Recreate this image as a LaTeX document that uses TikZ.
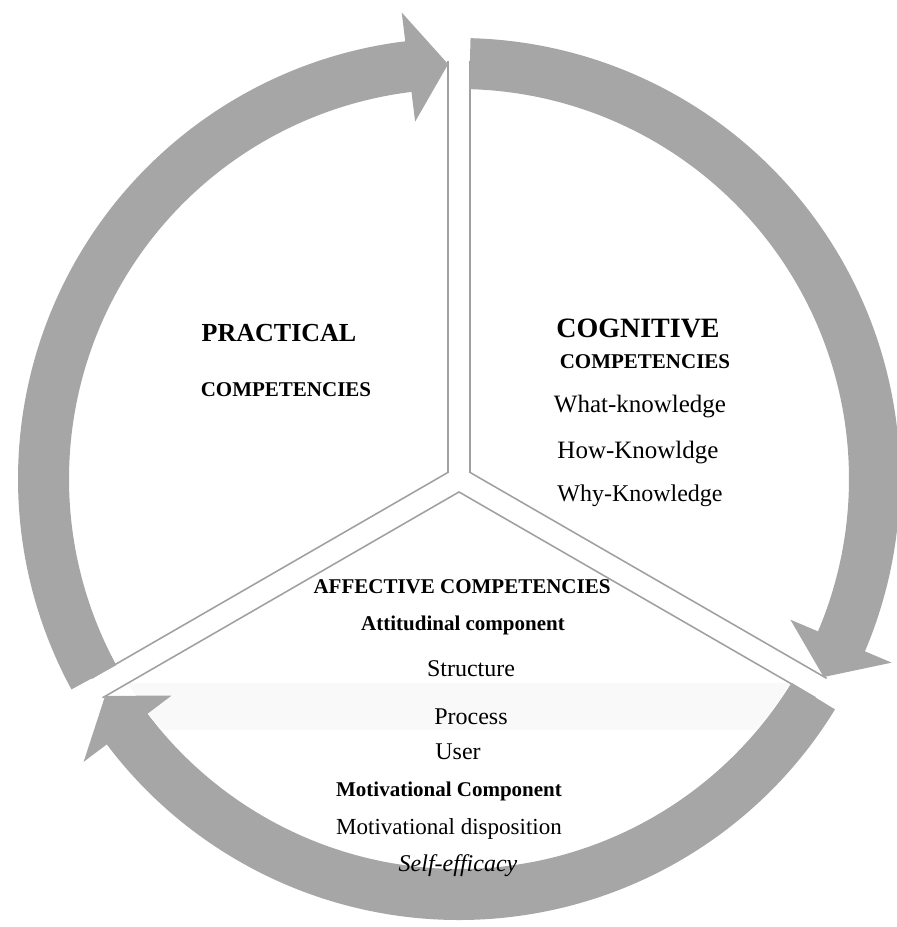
\documentclass[tikz,border=0pt]{standalone}
\usepackage{fontspec}
\setmainfont{Liberation Serif}

\definecolor{ringgray}{RGB}{166,166,166}
\definecolor{edgegray}{RGB}{160,160,160}

\begin{document}
\begin{tikzpicture}[
  x=1pt, y=1pt,
  band/.style={fill=ringgray},
  bighead/.style={font=\fontsize{26}{30}\selectfont\bfseries},
  head/.style={font=\fontsize{21}{25}\selectfont\bfseries},
  item/.style={font=\fontsize{24}{28}\selectfont}
]
\useasboundingbox (-459,-448) rectangle (438,479);

% ------------------------------------------------------------
% faint band behind the process row
% ------------------------------------------------------------
\begin{scope}
  \clip (0,0) circle[radius=389];
  \fill[black!2.5] (-400,-204) rectangle (400,-251);
\end{scope}

% ------------------------------------------------------------
% sector borders: gray strips with a white core
% ------------------------------------------------------------
\foreach \a in {90,210,330}
  \draw[edgegray, line width=24] (0,0) -- (\a:418);
\foreach \a in {90,210,330}
  \draw[white, line width=20.6] (0,0) -- (\a:420);

% ------------------------------------------------------------
% ring of three clockwise arrows
% ------------------------------------------------------------
\foreach \st [evaluate=\st as \bk using \st-111.5,
              evaluate=\st as \tp using \st-117] in {208.5,88.5,-31.5}
  \fill[band]
    (\st:390) arc[start angle=\st, end angle=\bk, radius=390]
    -- (\bk:360) -- (\tp:415) -- (\bk:470)
    -- (\bk:441) arc[start angle=\bk, end angle=\st, radius=441]
    -- cycle;

% ------------------------------------------------------------
% practical
% ------------------------------------------------------------
\node[bighead] (practical) at (-180,146) {PRACTICAL};
\node[head] (practicalsub) at (-173,89) {COMPETENCIES};

% ------------------------------------------------------------
% cognitive
% ------------------------------------------------------------
\node[bighead, font=\fontsize{28}{32}\selectfont\bfseries] (cognitive)
  at (179,151) {COGNITIVE};
\node[head] (cognitivesub) at (186,117) {COMPETENCIES};
\node[item, font=\fontsize{25}{29}\selectfont] (what) at (181,72) {What-knowledge};
\node[item, font=\fontsize{25}{29}\selectfont] (how) at (179,26) {How-Knowldge};
\node[item] (why) at (181,-17) {Why-Knowledge};

% ------------------------------------------------------------
% affective
% ------------------------------------------------------------
\node[head] (affective) at (3,-108) {AFFECTIVE COMPETENCIES};
\node[head] (attitudinal) at (4,-146) {Attitudinal component};
\node[item] (structure) at (12,-190) {Structure};
\node[item] (process) at (12,-238) {Process};
\node[item] (user) at (-1,-273) {User};
\node[head] (motivational) at (-10,-312) {Motivational Component};
\node[item, font=\fontsize{23}{27}\selectfont] (disposition) at (-10,-350)
  {Motivational disposition};
\node[item, font=\fontsize{24}{28}\selectfont\itshape] (efficacy) at (-1,-387)
  {Self-efficacy};

\end{tikzpicture}
\end{document}
